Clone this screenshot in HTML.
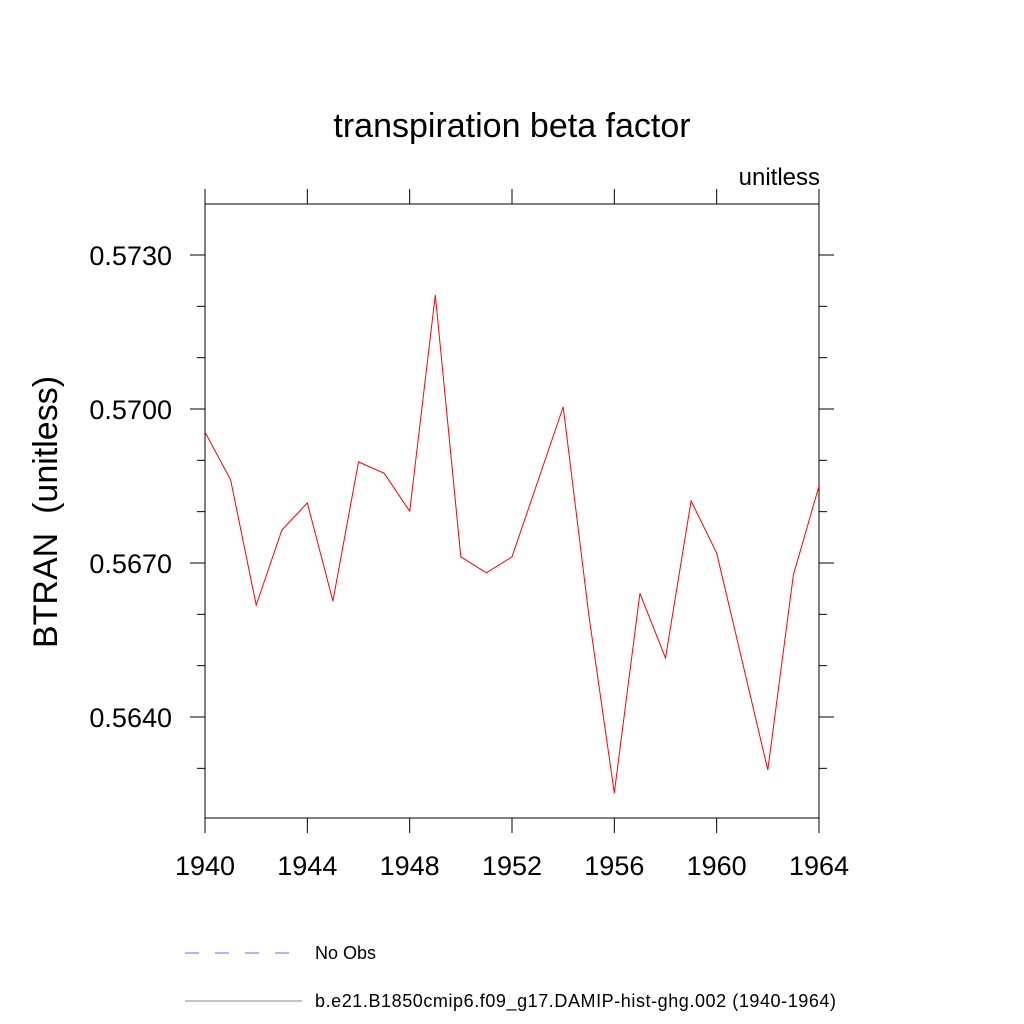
<!DOCTYPE html>
<html><head><meta charset="utf-8"><style>body{margin:0;background:#fff}svg{display:block;font-family:"Liberation Sans",sans-serif}</style></head>
<body>
<svg id="chart" width="1024" height="1024" viewBox="0 0 1024 1024">
<text x="512" y="137" font-size="34" text-anchor="middle">transpiration beta factor</text>
<text x="820" y="185" font-size="24" text-anchor="end">unitless</text>
<text transform="translate(57,512) rotate(-90)" font-size="34" text-anchor="middle" style="white-space:pre">BTRAN  (unitless)</text>
<rect x="205" y="204" width="614" height="614" fill="none" stroke="#000" stroke-width="1"/>
<g id="axes"></g>
<polyline id="series" fill="none" stroke="#f00" stroke-width="1"/>
<g>
<line x1="185" y1="953" x2="292" y2="953" stroke="#66f" stroke-dasharray="14,16"/>
<text x="315" y="959" font-size="18">No Obs</text>
<line x1="185" y1="1001" x2="302" y2="1001" stroke="#888"/>
<text x="315" y="1007" font-size="18" textLength="521">b.e21.B1850cmip6.f09_g17.DAMIP-hist-ghg.002 (1940-1964)</text>
</g>
</svg>
<script>
const years=[1940,1941,1942,1943,1944,1945,1946,1947,1948,1949,1950,1951,1952,1953,1954,1955,1956,1957,1958,1959,1960,1961,1962,1963,1964];
const values=[0.56955,0.56862,0.56618,0.56764,0.56817,0.56626,0.56897,0.56875,0.56801,0.57222,0.56712,0.56681,0.56712,0.56858,0.57004,0.56599,0.56252,0.56641,0.56515,0.56821,0.56719,0.56508,0.56297,0.56677,0.56850];
const xTicks=[1940,1944,1948,1952,1956,1960,1964];
const yTicks=[0.5640,0.5670,0.5700,0.5730];
const yMinor=[0.5630,0.5650,0.5660,0.5680,0.5690,0.5710,0.5720,0.5740];
const X=v=>205+(v-1940)*614/24;
const Y=v=>409-(v-0.57)*51333.3;
const ns="http://www.w3.org/2000/svg";
const g=document.getElementById('axes');
function ln(x1,y1,x2,y2,n){const l=document.createElementNS(ns,'line');l.setAttribute('x1',x1);l.setAttribute('y1',y1);l.setAttribute('x2',x2);l.setAttribute('y2',y2);l.setAttribute('stroke','#000');


g.appendChild(l);}
function tx(x,y,s,a,n){const t=document.createElementNS(ns,'text');t.setAttribute('x',x);t.setAttribute('y',y);t.setAttribute('font-size','27');t.setAttribute('text-anchor',a);t.textContent=s;


g.appendChild(t);}
xTicks.forEach(v=>{const x=X(v);ln(x,818,x,833,'x-tick');ln(x,189,x,204,'x-tick-top');tx(x,875,String(v),'middle','x-tick-label');});
yTicks.forEach(v=>{const y=Y(v);ln(190,y,205,y,'y-tick');ln(819,y,834,y,'y-tick-right');tx(172,y+10,v.toFixed(4),'end','y-tick-label');});
yMinor.forEach(v=>{const y=Y(v);if(y<204||y>818)return;ln(197,y,205,y,'y-minor-tick');ln(819,y,827,y,'y-minor-tick-right');});
document.getElementById('series').setAttribute('points',years.map((yr,i)=>X(yr).toFixed(1)+','+Y(values[i]).toFixed(1)).join(' '));
</script>
</body></html>
